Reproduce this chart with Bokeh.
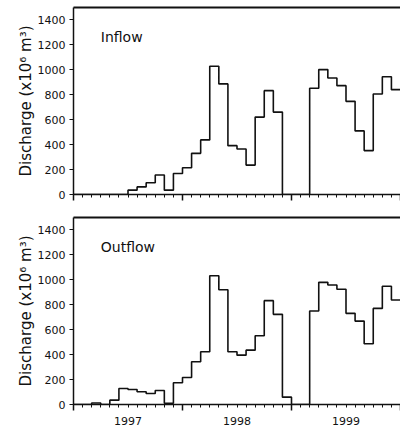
from bokeh.plotting import figure
from bokeh.models import FixedTicker, LinearAxis, Range1d
from bokeh.layouts import column
from bokeh.embed import file_html
from bokeh.resources import INLINE
from bokeh.core.properties import value

# Months since Jan 1997 (0 = Jan 1997)
months = list(range(36))

inflow = [0, 0, 0, 0, 0, 0, 35, 61, 94, 156, 35, 169,
          215, 330, 438, 1029, 887, 392, 365, 236, 621, 833, 661, 0,
          0, 0, 852, 1002, 935, 873, 747, 510, 352, 806, 944, 841]

outflow = [0, 0, 12, 0, 35, 128, 120, 102, 88, 112, 10, 174,
           217, 343, 423, 1033, 921, 423, 396, 436, 552, 833, 723, 59,
           0, 0, 750, 980, 958, 924, 731, 669, 487, 771, 948, 838]

year_starts = [0, 12, 24, 36]
year_mids = [6, 18, 30]
year_labels = ["1997", "1998", "1999"]
y_ticks = [0, 200, 400, 600, 800, 1000, 1200, 1400]
panel_names = ["Inflow", "Outflow"]

FONT = "DejaVu Sans"
INK = "#111111"


def make_panel(vals, name, show_years, height, border_top, border_bottom):
    p = figure(width=400, height=height, x_range=Range1d(0, 36), y_range=Range1d(0, 1500),
               output_backend="svg", toolbar_location=None, x_axis_type=None,
               min_border_left=73, min_border_right=0,
               min_border_top=border_top, min_border_bottom=border_bottom)
    p.outline_line_color = None
    p.grid.visible = False

    # x axis with year ticks and monthly minor ticks (no labels drawn)
    xa = LinearAxis(ticker=FixedTicker(ticks=year_starts, minor_ticks=months + [36]),
                    major_tick_out=6, major_tick_in=0, minor_tick_out=3, minor_tick_in=0,
                    axis_line_width=1.5, axis_line_color=INK,
                    major_tick_line_color=INK, major_tick_line_width=1.5,
                    minor_tick_line_color=INK,
                    major_label_text_color=None, major_label_text_font_size="1px",
                    major_label_standoff=0)
    p.add_layout(xa, "below")

    if show_years:
        yl = LinearAxis(ticker=FixedTicker(ticks=year_mids, minor_ticks=[]),
                        major_label_overrides={m: l for m, l in zip(year_mids, year_labels)},
                        axis_line_color=None, major_tick_line_color=None, minor_tick_line_color=None,
                        major_tick_out=0, major_tick_in=0, minor_tick_out=0, minor_tick_in=0,
                        major_label_standoff=6,
                        major_label_text_font=FONT, major_label_text_font_size="11px",
                        major_label_text_color=INK)
        p.add_layout(yl, "below")

    # top border line
    top = LinearAxis(ticker=FixedTicker(ticks=[], minor_ticks=[]),
                     major_label_text_color=None, major_label_text_font_size="1px",
                     major_tick_out=0, major_tick_in=0, minor_tick_out=0, minor_tick_in=0,
                     major_label_standoff=0, axis_line_width=1.8, axis_line_color=INK)
    p.add_layout(top, "above")

    # y axis
    ya = p.yaxis[0]
    ya.ticker = FixedTicker(ticks=y_ticks, minor_ticks=[])
    ya.major_tick_out = 4
    ya.major_tick_in = 0
    ya.minor_tick_out = 0
    ya.minor_tick_in = 0
    ya.axis_line_width = 1.5
    ya.axis_line_color = INK
    ya.major_tick_line_color = INK
    ya.major_label_text_font = FONT
    ya.major_label_text_font_size = "11px"
    ya.major_label_text_color = INK
    ya.major_label_standoff = 4
    ya.axis_label = "Discharge (x10\u2076 m\u00b3)"
    ya.axis_label_text_font = FONT
    ya.axis_label_text_font_size = "15px"
    ya.axis_label_text_font_style = "normal"
    ya.axis_label_text_color = INK
    ya.axis_label_standoff = 0

    xs = months + [36]
    ys = vals + [vals[-1]]
    p.step(xs, ys, mode="after", line_color=INK, line_width=1.6)

    p.text(x=[3], y=[1260], text=[name], text_font=value(FONT), text_font_size="14px",
           text_baseline="alphabetic", text_align="left", text_color=INK)
    return p


p1 = make_panel(inflow, panel_names[0], False, 212, 7, 18)
p2 = make_panel(outflow, panel_names[1], True, 216, 5, 24)

layout = column(p1, p2, spacing=0)
open("out.html", "w").write(file_html(layout, INLINE))
